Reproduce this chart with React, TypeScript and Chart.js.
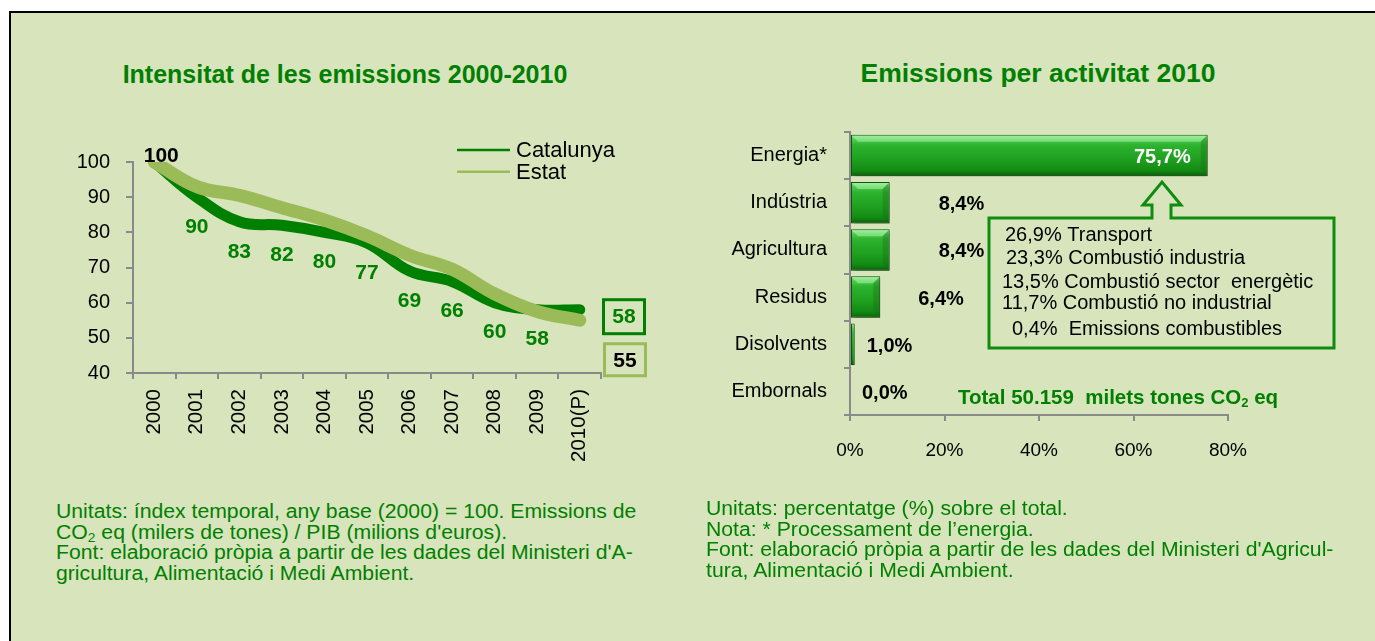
import React, { useEffect, useRef } from 'react';
import { Chart, registerables } from 'chart.js';

Chart.register(...registerables);

// ---------- data ----------
const years = ['2000', '2001', '2002', '2003', '2004', '2005', '2006', '2007', '2008', '2009', '2010(P)'];
const seriesNames = ['Catalunya', 'Estat'];
const catalunya = [100, 90, 83, 82, 80, 77, 69, 66, 60, 58, 58];
const estat = [100, 93, 90.5, 87, 83.5, 79, 73.5, 69.5, 62.5, 57.5, 55];

const activities = ['Energia*', 'Indústria', 'Agricultura', 'Residus', 'Disolvents', 'Embornals'];
const shares = [75.7, 8.4, 8.4, 6.4, 1.0, 0.0];
const energyBreakdown = [
  '26,9% Transport',
  '23,3% Combustió industria',
  '13,5% Combustió sector  energètic',
  '11,7% Combustió no industrial',
  '0,4%  Emissions combustibles',
];
const totalLabel = ['Total 50.159  milets tones CO', '2', ' eq'];

const FONT = '"Liberation Sans", Arial, Helvetica, sans-serif';
const GREEN = '#008000';
const LIGHT = '#9bbb59';
const BG = '#d8e4bc';
const AXIS = '#8a8a8a';

const fmtPct = (v: number) => v.toFixed(1).replace('.', ',') + '%';

// ---------- left chart plugin ----------
const leftPlugin = {
  id: 'leftLabels',
  afterDatasetsDraw(chart: any) {
    const ctx = chart.ctx;
    const xs = chart.scales.x;
    const ys = chart.scales.y;
    ctx.save();
    ctx.textAlign = 'center';
    ctx.textBaseline = 'middle';
    catalunya.forEach((v, i) => {
      const x = xs.getPixelForValue(i);
      const y = ys.getPixelForValue(v);
      if (i === 0) {
        ctx.font = `bold 21px ${FONT}`;
        ctx.fillStyle = '#000';
        ctx.fillText(String(v), x + 7, y - 6);
      } else if (i < catalunya.length - 1) {
        ctx.font = `bold 21px ${FONT}`;
        ctx.fillStyle = GREEN;
        ctx.fillText(String(v), x, y + 30);
      }
    });
    // end boxes
    const right = chart.chartArea.right;
    const last = catalunya.length - 1;
    const c1 = ys.getPixelForValue(catalunya[last]) + 7;
    ctx.lineWidth = 3;
    ctx.strokeStyle = GREEN;
    ctx.strokeRect(right + 2.5, c1 - 17, 41, 34);
    ctx.fillStyle = GREEN;
    ctx.font = `bold 21px ${FONT}`;
    ctx.fillText(String(catalunya[last]), right + 23, c1 + 1);
    const c2 = ys.getPixelForValue(estat[last]) + 39.5;
    ctx.strokeStyle = LIGHT;
    ctx.strokeRect(right + 3.5, c2 - 16, 41, 32);
    ctx.fillStyle = '#000';
    ctx.fillText(String(estat[last]), right + 24, c2 + 1);

    // legend
    ctx.textAlign = 'left';
    ctx.font = `22px ${FONT}`;
    chart.data.datasets.forEach((ds: any, i: number) => {
      const ly = 50 + i * 21.7;
      ctx.beginPath();
      ctx.strokeStyle = ds.borderColor;
      ctx.lineWidth = 2.5;
      ctx.moveTo(417, ly);
      ctx.lineTo(470, ly);
      ctx.stroke();
      ctx.fillStyle = '#000';
      ctx.fillText(ds.label, 476, ly + 1);
    });
    ctx.restore();
  },
};

// ---------- right chart plugin ----------
const rightPlugin = {
  id: 'rightLabels',
  beforeDatasetsDraw(chart: any) {
    const ctx = chart.ctx;
    ctx.save();
    ctx.shadowColor = 'rgba(0,0,0,0.35)';
    ctx.shadowBlur = 4;
    ctx.shadowOffsetX = 2;
    ctx.shadowOffsetY = 3;
  },
  afterDatasetsDraw(chart: any) {
    const ctx = chart.ctx;
    ctx.restore();
    const xs = chart.scales.x;
    const ys = chart.scales.y;
    ctx.save();
    // bevel highlights on bars
    const meta = chart.getDatasetMeta(0);
    meta.data.forEach((bar: any, i: number) => {
      if (shares[i] <= 0) return;
      const { x, y, base, height } = bar.getProps(['x', 'y', 'base', 'height'], true);
      const w = x - base;
      if (w < 8) return;
      const top = y - height / 2;
      const b = Math.min(6, w / 4);
      ctx.beginPath();
      ctx.moveTo(base + 1, top + 1);
      ctx.lineTo(x - 1, top + 1);
      ctx.lineTo(x - 1 - b, top + 1 + b);
      ctx.lineTo(base + 1 + b, top + 1 + b);
      ctx.closePath();
      ctx.fillStyle = 'rgba(190,255,190,0.45)';
      ctx.fill();
      ctx.beginPath();
      ctx.moveTo(x - 1, top + 1);
      ctx.lineTo(x - 1, top + height - 1);
      ctx.lineTo(x - 1 - b, top + height - 1 - b);
      ctx.lineTo(x - 1 - b, top + 1 + b);
      ctx.closePath();
      ctx.fillStyle = 'rgba(20,110,20,0.35)';
      ctx.fill();
    });

    ctx.textBaseline = 'middle';
    ctx.font = `bold 20px ${FONT}`;
    shares.forEach((v, i) => {
      const xe = xs.getPixelForValue(v);
      const yc = ys.getPixelForValue(i) + 2;
      if (i === 0) {
        ctx.textAlign = 'right';
        ctx.fillStyle = '#fff';
        ctx.fillText(fmtPct(v), xe - 17, yc);
      } else {
        const gap = v >= 8 ? 49 : v >= 5 ? 38 : 12;
        ctx.textAlign = 'left';
        ctx.fillStyle = '#000';
        ctx.fillText(fmtPct(v), xe + gap, yc);
      }
    });

    // callout with arrow
    ctx.beginPath();
    ctx.moveTo(309, 118);
    ctx.lineTo(472, 118);
    ctx.lineTo(472, 105);
    ctx.lineTo(463, 105);
    ctx.lineTo(482, 82);
    ctx.lineTo(501, 105);
    ctx.lineTo(491, 105);
    ctx.lineTo(491, 118);
    ctx.lineTo(654, 118);
    ctx.lineTo(654, 248);
    ctx.lineTo(309, 248);
    ctx.closePath();
    ctx.fillStyle = BG;
    ctx.fill();
    ctx.lineWidth = 3;
    ctx.strokeStyle = '#0e8c0e';
    ctx.lineJoin = 'miter';
    ctx.stroke();

    ctx.font = `20px ${FONT}`;
    ctx.fillStyle = '#000';
    ctx.textAlign = 'left';
    const lx = [325, 326, 322, 322, 332];
    const ly = [135, 158, 182, 203, 229];
    energyBreakdown.forEach((t, i) => ctx.fillText(t, lx[i], ly[i]));

    // total
    let tx = 278;
    const ty = 298;
    ctx.fillStyle = GREEN;
    ctx.font = `bold 20.5px ${FONT}`;
    ctx.fillText(totalLabel[0], tx, ty);
    tx += ctx.measureText(totalLabel[0]).width;
    ctx.font = `bold 13px ${FONT}`;
    ctx.fillText(totalLabel[1], tx, ty + 5);
    tx += ctx.measureText(totalLabel[1]).width;
    ctx.font = `bold 20.5px ${FONT}`;
    ctx.fillText(totalLabel[2], tx, ty);
    ctx.restore();
  },
};

export default function App() {
  const leftRef = useRef<HTMLCanvasElement>(null);
  const rightRef = useRef<HTMLCanvasElement>(null);

  useEffect(() => {
    const left = new Chart(leftRef.current as HTMLCanvasElement, {
      type: 'line',
      data: {
        labels: years,
        datasets: [
          {
            label: seriesNames[0],
            data: catalunya,
            borderColor: GREEN,
            backgroundColor: GREEN,
            borderWidth: 11,
            tension: 0.4,
            pointRadius: 0,
            borderCapStyle: 'round',
            borderJoinStyle: 'round',
            fill: false,
            order: 1,
          },
          {
            label: seriesNames[1],
            data: estat,
            borderColor: LIGHT,
            backgroundColor: LIGHT,
            borderWidth: 13,
            tension: 0.4,
            pointRadius: 0,
            borderCapStyle: 'round',
            borderJoinStyle: 'round',
            fill: false,
            order: 0,
          },
        ],
      },
      options: {
        responsive: false,
        animation: false,
        layout: { padding: { left: 0, top: 62, right: 79, bottom: 0 } },
        plugins: { legend: { display: false }, tooltip: { enabled: false }, title: { display: false } },
        scales: {
          x: {
            type: 'category',
            offset: true,
            grid: { offset: true, drawOnChartArea: false, drawTicks: true, tickLength: 6, color: AXIS, lineWidth: 2 },
            border: { color: AXIS, width: 2 },
            ticks: { minRotation: 90, maxRotation: 90, autoSkip: false, padding: 10, color: '#000', font: { size: 20.5, family: FONT } },
            afterFit: (s: any) => { s.height = 127; },
          },
          y: {
            min: 40,
            max: 100,
            ticks: { stepSize: 10, padding: 16, color: '#000', font: { size: 20, family: FONT } },
            grid: { drawOnChartArea: false, drawTicks: true, tickLength: 7, color: AXIS, lineWidth: 2 },
            border: { color: AXIS, width: 2 },
            afterFit: (s: any) => { s.width = 93; },
          },
        },
      } as any,
      plugins: [leftPlugin],
    });

    const right = new Chart(rightRef.current as HTMLCanvasElement, {
      type: 'bar',
      data: {
        labels: activities,
        datasets: [
          {
            data: shares,
            backgroundColor: (c: any) => {
              const chart = c.chart;
              const ys = chart.scales && chart.scales.y;
              if (!ys || c.dataIndex === undefined || !ys.height) return '#22a822';
              const yc = ys.getPixelForValue(c.dataIndex);
              const h = (ys.height / activities.length) * 0.88;
              const g = chart.ctx.createLinearGradient(0, yc - h / 2, 0, yc + h / 2);
              g.addColorStop(0, '#8fe88f');
              g.addColorStop(0.12, '#4cc84c');
              g.addColorStop(0.25, '#2db32d');
              g.addColorStop(0.6, '#1f9f1f');
              g.addColorStop(0.86, '#128a12');
              g.addColorStop(1, '#0a5e0a');
              return g;
            },
            borderColor: '#0b5a0b',
            borderWidth: (c: any) => (shares[c.dataIndex] > 0 ? 1 : 0),
            borderSkipped: false,
            categoryPercentage: 1,
            barPercentage: 0.88,
          },
        ],
      },
      options: {
        indexAxis: 'y',
        responsive: false,
        animation: false,
        layout: { padding: { left: 0, top: 32, right: 132, bottom: 0 } },
        plugins: { legend: { display: false }, tooltip: { enabled: false }, title: { display: false } },
        scales: {
          x: {
            min: 0,
            max: 80,
            ticks: { stepSize: 20, callback: (v: any) => v + '%', padding: 18, color: '#000', font: { size: 19, family: FONT } },
            grid: { drawOnChartArea: false, drawTicks: true, tickLength: 6, color: AXIS, lineWidth: 2 },
            border: { color: AXIS, width: 2 },
            afterFit: (s: any) => { s.height = 85; },
          },
          y: {
            ticks: { padding: 17, color: '#000', font: { size: 20, family: FONT } },
            grid: { offset: true, drawOnChartArea: false, drawTicks: true, tickLength: 6, color: AXIS, lineWidth: 2 },
            border: { color: AXIS, width: 2 },
            afterFit: (s: any) => { s.width = 170; },
          },
        },
      } as any,
      plugins: [rightPlugin],
    });

    return () => {
      left.destroy();
      right.destroy();
    };
  }, []);

  const note: React.CSSProperties = {
    position: 'absolute',
    fontSize: 20,
    lineHeight: '20.5px',
    color: GREEN,
    whiteSpace: 'nowrap',
    fontFamily: FONT,
    transform: 'scaleX(1.06)',
    transformOrigin: '0 0',
  };
  const sub: React.CSSProperties = { fontSize: '0.65em', verticalAlign: '-0.25em', lineHeight: 0 };
  const title: React.CSSProperties = {
    position: 'absolute',
    top: 62,
    textAlign: 'center',
    fontSize: 25,
    lineHeight: '25px',
    fontWeight: 'bold',
    color: GREEN,
    whiteSpace: 'nowrap',
  };

  return (
    <div style={{ position: 'absolute', left: 0, top: 0, width: 1375, height: 641, overflow: 'hidden', background: '#fff', fontFamily: FONT }}>
      <div style={{ position: 'absolute', left: 9, top: 11, width: 1400, height: 700, border: '2px solid #000', background: BG }} />
      <div style={{ ...title, left: 100, width: 490 }}>Intensitat de les emissions 2000-2010</div>
      <div style={{ ...title, left: 838, width: 400, fontSize: 26.5, top: 61 }}>Emissions per activitat 2010</div>
      <canvas ref={leftRef} width={640} height={400} style={{ position: 'absolute', left: 40, top: 100, width: 640, height: 400 }} />
      <canvas ref={rightRef} width={680} height={400} style={{ position: 'absolute', left: 680, top: 100, width: 680, height: 400 }} />
      <div style={{ ...note, left: 56, top: 501 }}>
        Unitats: índex temporal, any base (2000) = 100. Emissions de<br />
        CO<sub style={sub}>2</sub> eq (milers de tones) / PIB (milions d'euros).<br />
        Font: elaboració pròpia a partir de les dades del Ministeri d'A-<br />
        gricultura, Alimentació i Medi Ambient.
      </div>
      <div style={{ ...note, left: 706, top: 498 }}>
        Unitats: percentatge (%) sobre el total.<br />
        Nota: * Processament de l’energia.<br />
        Font: elaboració pròpia a partir de les dades del Ministeri d'Agricul-<br />
        tura, Alimentació i Medi Ambient.
      </div>
    </div>
  );
}
